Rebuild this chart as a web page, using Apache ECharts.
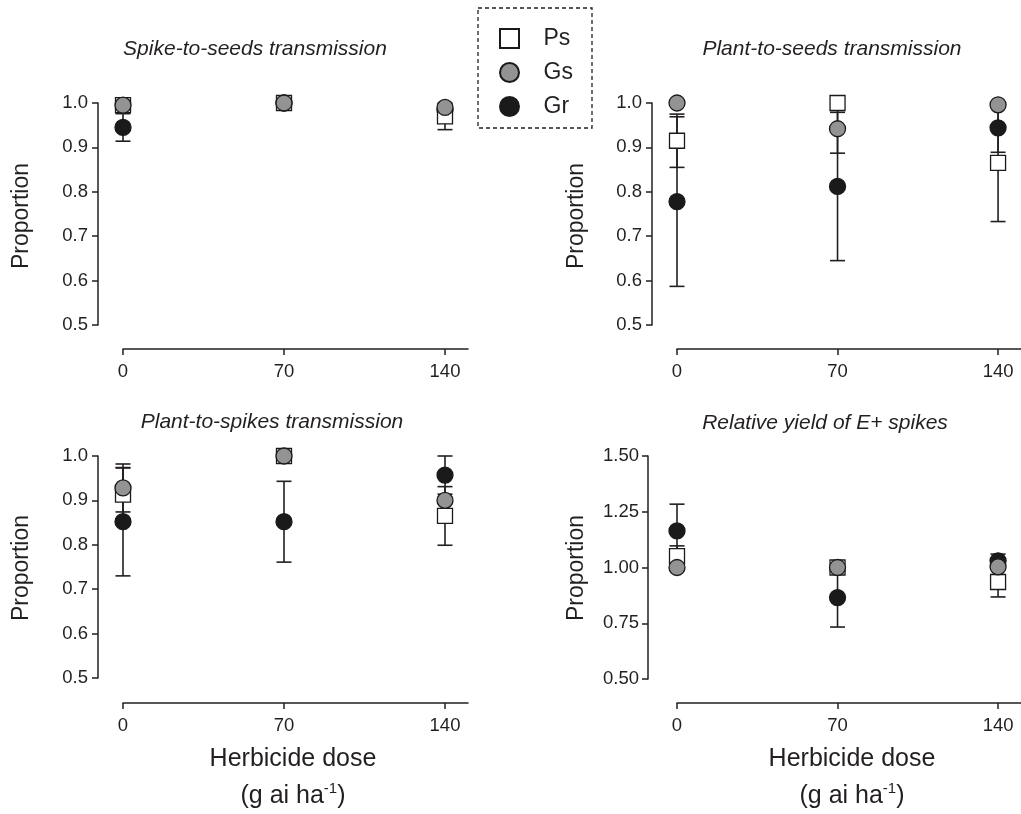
<html>
<head>
    <meta charset="utf-8">
    <title>Endophyte transmission</title>
    <script src="https://cdn.jsdelivr.net/npm/echarts@6/dist/echarts.min.js"></script>
    <style>
        html, body { margin: 0; padding: 0; background: #fff; }
        #main { width: 1021px; height: 814px; }
    </style>
</head>
<body>
    <div id="main"></div>
    <script>
        // herbicide doses (g ai ha-1)
        var doses = [0, 70, 140];
        var groups = ['Ps', 'Gs', 'Gr'];

        // Spike-to-seeds transmission
        var psSpikeSeeds = [0.995, 1.0, 0.97];
        var psSpikeSeedsErr = [0, 0, 0.03];
        var gsSpikeSeeds = [0.995, 1.0, 0.99];
        var gsSpikeSeedsErr = [0, 0, 0];
        var grSpikeSeeds = [0.945, 1.0, 0.985];
        var grSpikeSeedsErr = [0.031, 0, 0.01];

        // Plant-to-seeds transmission
        var psPlantSeeds = [0.915, 1.0, 0.865];
        var psPlantSeedsErr = [0.06, 0, 0.132];
        var gsPlantSeeds = [1.0, 0.942, 0.996];
        var gsPlantSeedsErr = [0, 0.055, 0];
        var grPlantSeeds = [0.778, 0.812, 0.944];
        var grPlantSeedsErr = [0.191, 0.167, 0.055];

        // Plant-to-spikes transmission
        var psPlantSpikes = [0.913, 1.0, 0.865];
        var psPlantSpikesErr = [0.06, 0, 0.066];
        var gsPlantSpikes = [0.928, 1.0, 0.9];
        var gsPlantSpikesErr = [0.054, 0, 0];
        var grPlantSpikes = [0.852, 0.852, 0.957];
        var grPlantSpikesErr = [0.122, 0.091, 0.043];

        // Relative yield of E+ spikes
        var psYield = [1.051, 1.0, 0.935];
        var psYieldErr = [0.046, 0, 0.067];
        var gsYield = [1.0, 1.0, 1.003];
        var gsYieldErr = [0, 0, 0];
        var grYield = [1.164, 0.865, 1.03];
        var grYieldErr = [0.12, 0.132, 0.03];

        var yTicksProp = [0.5, 0.6, 0.7, 0.8, 0.9, 1.0];
        var yTicksYield = [0.5, 0.75, 1.0, 1.25, 1.5];
        var xTicks = [0, 70, 140];

        var panels = [
            { title: 'Spike-to-seeds transmission', vals: [psSpikeSeeds, gsSpikeSeeds, grSpikeSeeds], errs: [psSpikeSeedsErr, gsSpikeSeedsErr, grSpikeSeedsErr] },
            { title: 'Plant-to-seeds transmission', vals: [psPlantSeeds, gsPlantSeeds, grPlantSeeds], errs: [psPlantSeedsErr, gsPlantSeedsErr, grPlantSeedsErr] },
            { title: 'Plant-to-spikes transmission', vals: [psPlantSpikes, gsPlantSpikes, grPlantSpikes], errs: [psPlantSpikesErr, gsPlantSpikesErr, grPlantSpikesErr] },
            { title: 'Relative yield of E+ spikes', vals: [psYield, gsYield, grYield], errs: [psYieldErr, gsYieldErr, grYieldErr] }
        ];

        var ink = '#231f20';
        var font = 'Liberation Sans, Arial, sans-serif';
        var squarePath = 'path://M0,0L10,0L10,10L0,10Z';

        var grids = [
            { left: 123, top: 103, width: 345, height: 222 },
            { left: 677, top: 103, width: 345, height: 222 },
            { left: 123, top: 456, width: 345, height: 222 },
            { left: 677, top: 456, width: 345, height: 223 }
        ];
        var yOffsets = [25, 25, 25, 29];
        var xOffsets = [24, 24, 25, 24];
        var yLabelGap = [10, 10, 10, 9];

        var markStyle = [
            { symbol: squarePath, size: 15, color: '#ffffff', z: 4 },
            { symbol: 'circle', size: 16, color: '#939393', z: 5 },
            { symbol: 'circle', size: 16, color: '#1a1a1a', z: 3 }
        ];

        function errorBar(params, api) {
            var x = api.value(0), y = api.value(1), e = api.value(2);
            if (!e) return;
            var top = api.coord([x, y + e]);
            var bot = api.coord([x, y - e]);
            var w = 7.5;
            var st = { stroke: ink, lineWidth: 1.6 };
            return {
                type: 'group',
                children: [
                    { type: 'line', shape: { x1: top[0], y1: top[1], x2: bot[0], y2: bot[1] }, style: st },
                    { type: 'line', shape: { x1: top[0] - w, y1: top[1], x2: top[0] + w, y2: top[1] }, style: st },
                    { type: 'line', shape: { x1: bot[0] - w, y1: bot[1], x2: bot[0] + w, y2: bot[1] }, style: st }
                ]
            };
        }

        var xAxes = [], yAxes = [], series = [];
        for (var p = 0; p < 4; p++) {
            var isYield = p == 3;
            xAxes.push({
                type: 'value', gridIndex: p, min: 0, max: 150, interval: 70, offset: xOffsets[p],
                splitLine: { show: false },
                axisLine: { show: true, onZero: false, lineStyle: { color: ink, width: 1.5 } },
                axisTick: { show: true, length: 6, customValues: xTicks, lineStyle: { color: ink, width: 1.5 } },
                axisLabel: { customValues: xTicks, color: ink, fontSize: 18.5, fontFamily: font, margin: 13 }
            });
            yAxes.push({
                type: 'value', gridIndex: p,
                min: 0.5, max: isYield ? 1.5 : 1.0, interval: isYield ? 0.25 : 0.1,
                offset: yOffsets[p],
                splitLine: { show: false },
                axisLine: { show: true, onZero: false, lineStyle: { color: ink, width: 1.5 } },
                axisTick: { show: true, length: 6, customValues: isYield ? yTicksYield : yTicksProp, lineStyle: { color: ink, width: 1.5 } },
                axisLabel: {
                    customValues: isYield ? yTicksYield : yTicksProp,
                    color: ink, fontSize: 18.5, fontFamily: font, margin: yLabelGap[p],
                    formatter: (function (d) { return function (v) { return v.toFixed(d); }; })(isYield ? 2 : 1)
                }
            });
            for (var g = 0; g < 3; g++) {
                var pts = [], bars = [];
                for (var i = 0; i < doses.length; i++) {
                    pts.push([doses[i], panels[p].vals[g][i]]);
                    bars.push([doses[i], panels[p].vals[g][i], panels[p].errs[g][i]]);
                }
                series.push({
                    type: 'custom', name: groups[g] + ' err', xAxisIndex: p, yAxisIndex: p,
                    renderItem: errorBar, data: bars, z: 2, clip: false, silent: true
                });
                series.push({
                    type: 'scatter', name: groups[g], xAxisIndex: p, yAxisIndex: p,
                    symbol: markStyle[g].symbol, symbolSize: markStyle[g].size,
                    itemStyle: { color: markStyle[g].color, borderColor: '#1a1a1a', borderWidth: 1.3, opacity: 1 },
                    data: pts, z: markStyle[g].z, clip: false
                });
            }
        }

        var graphics = [];
        var titlePos = [[255, 49], [832, 49], [272, 422], [825, 423]];
        for (var t = 0; t < 4; t++) {
            graphics.push({
                type: 'text', x: titlePos[t][0], y: titlePos[t][1],
                style: { text: panels[t].title, fill: ink, font: 'italic 21px ' + font, textAlign: 'center', textVerticalAlign: 'middle' }
            });
        }
        var yNamePos = [[22, 216], [577, 216], [22, 568], [577, 568]];
        for (var t = 0; t < 4; t++) {
            graphics.push({
                type: 'text', x: yNamePos[t][0], y: yNamePos[t][1], rotation: Math.PI / 2,
                style: { text: 'Proportion', fill: ink, font: '23px ' + font, textAlign: 'center', textVerticalAlign: 'middle' }
            });
        }
        var xNameX = [293, 852];
        for (var t = 0; t < 2; t++) {
            graphics.push({
                type: 'text', x: xNameX[t], y: 759,
                style: { text: 'Herbicide dose', fill: ink, font: '25px ' + font, textAlign: 'center', textVerticalAlign: 'middle' }
            });
            graphics.push({
                type: 'text', x: xNameX[t], y: 796,
                style: {
                    text: '{a|(g ai ha}{s|-1}{a|)}', textAlign: 'center', textVerticalAlign: 'middle',
                    rich: {
                        a: { fontSize: 25, fontFamily: font, fill: ink, lineHeight: 30 },
                        s: { fontSize: 15, fontFamily: font, fill: ink, lineHeight: 30, verticalAlign: 'top' }
                    }
                }
            });
        }
        // dashed legend frame
        graphics.push({
            type: 'rect', shape: { x: 478, y: 8, width: 114, height: 120 }, z: -1,
            style: { fill: '#fff', stroke: ink, lineWidth: 1.3, lineDash: [4, 3] }
        });

        var myChart = echarts.init(document.getElementById('main'));
        var option = {
            animation: false,
            backgroundColor: '#fff',
            grid: grids,
            xAxis: xAxes,
            yAxis: yAxes,
            legend: {
                data: groups, orient: 'vertical', left: 499, top: 27, padding: 0,
                itemWidth: 58, itemHeight: 19, itemGap: 11, selectedMode: false,
                textStyle: { color: ink, fontSize: 23, fontFamily: font, lineHeight: 19 }
            },
            graphic: graphics,
            series: series
        };
        myChart.setOption(option);
    </script>
</body>
</html>
